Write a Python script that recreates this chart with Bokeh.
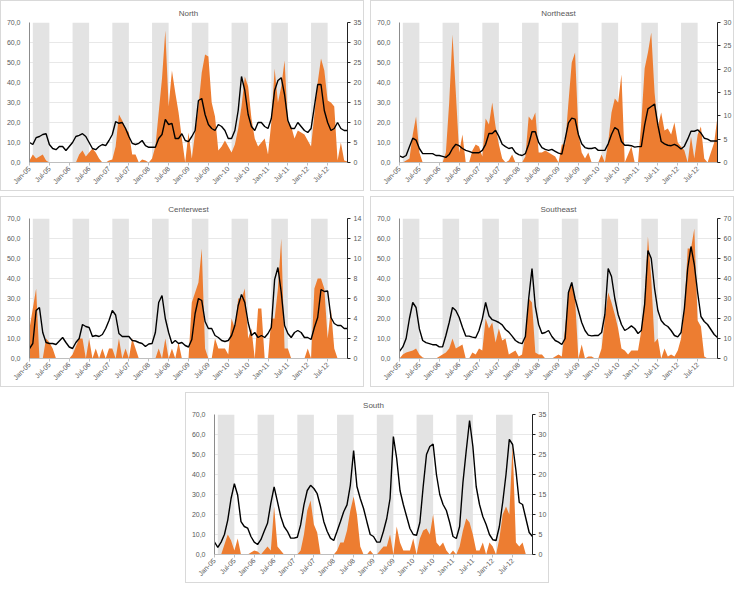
import math
from bokeh.plotting import figure
from bokeh.models import Range1d, LinearAxis, FixedTicker, CustomJSTickFormatter, Spacer
from bokeh.layouts import row, column
from bokeh.embed import file_html
from bokeh.resources import INLINE

# ---------------- data ----------------
months = list(range(97))  # Jan-05 ... Jan-13
tick_pos = list(range(0, 96, 6))
tick_labels = ["Jan-05", "Jul-05", "Jan-06", "Jul-06", "Jan-07", "Jul-07", "Jan-08", "Jul-08",
               "Jan-09", "Jul-09", "Jan-10", "Jul-10", "Jan-11", "Jul-11", "Jan-12", "Jul-12"]
years = list(range(8))
band_left = [12 * y + 1 for y in years]
band_right = [12 * y + 6 for y in years]

north_orange = [1, 4, 2, 3, 4, 1, 0, 0, 0, 0, 0, 0,
                0, 0, 0, 4, 6, 3, 5, 7, 5, 2, 0, 0,
                1, 1.5, 8, 24, 21, 17, 15, 4, 4, 0, 1.5, 1,
                0, 2, 8, 25, 42, 66, 28, 46, 35, 25, 12, 0,
                15, 2, 15, 28, 45, 54, 53, 30, 23, 6, 8, 11,
                8, 5, 9, 17, 28, 43, 38, 22, 12, 8, 10, 12,
                4, 20, 47, 30, 38, 51, 20, 18, 12, 16, 15, 14,
                11, 8, 24, 40, 52, 46, 31, 30, 28, 1, 10, 1,
                0.5]
north_black = [5, 4.5, 6.2, 6.5, 7, 7.2, 4.5, 3.5, 3.2, 4, 4, 3,
               4, 5, 6.5, 6.8, 7.2, 6.5, 5, 3.5, 3.2, 4, 4.5, 4.2,
               5.5, 7, 10.2, 9.8, 10, 8.5, 6.5, 4.8, 4.5, 4.8, 5.5, 4.2,
               3.8, 3.8, 3.8, 6, 7, 10.8, 9.5, 9.8, 6, 6, 7.2, 5.5,
               5.2, 6.5, 8, 15.5, 16, 12, 9.5, 8.5, 8, 9.5, 9, 8,
               6, 6, 8, 13, 21.5, 18, 12, 9, 8, 10, 10, 9,
               8.5, 11, 18, 20.5, 21.2, 17, 10.5, 8.5, 8.5, 10, 9, 8,
               7.5, 8.5, 14, 19.5, 19.5, 13, 10, 8, 8.5, 10, 8.5, 8,
               8]

ne_orange = [0, 0, 1, 2, 14, 23, 5, 0, 0, 0, 0, 0,
             0, 0, 5, 30, 64, 35, 5, 14, 0, 0, 6, 9,
             8, 3, 22, 19, 30, 18, 9, 2, 0, 1, 4, 0,
             0, 0, 3, 23, 21, 25, 5, 5, 6, 5, 4, 3,
             0, 9, 9, 30, 50, 55, 15, 5, 2, 5, 0, 0,
             0, 4, 0, 10, 25, 32, 30, 44, 0, 4, 8, 0,
             0, 20, 47, 55, 65, 35, 18, 25, 16, 17, 14, 20,
             10, 8, 6, 0, 13, 2, 14, 18, 2, 0, 5, 10,
             23]
ne_black = [1.4, 1.1, 1.5, 3.4, 5.2, 4.8, 3, 1.9, 1.9, 1.9, 1.9, 1.5,
            1.5, 1.3, 1.1, 1.7, 3, 3.9, 3.6, 3, 2.6, 2.4, 2.1, 2.1,
            2.1, 2.6, 3.9, 6.2, 6.2, 6.9, 5.6, 3.9, 3.4, 3, 3.2, 2.1,
            1.7, 1.5, 1.9, 3.9, 6.6, 6.6, 4.3, 3.2, 2.8, 2.6, 2.8, 2.4,
            2.0, 1.8, 5, 8.5, 9.5, 9.3, 6, 4, 3.2, 3, 3, 3.2,
            2.6, 2.6, 2.6, 4, 6, 7.5, 7, 4.5, 3.7, 3.7, 3.6, 3.3,
            3.4, 3.4, 8, 11.5, 12, 12.5, 8, 4.5, 4, 3.7, 3.6, 3.9,
            3.5, 2.9, 3.5, 5, 6.7, 6.7, 7, 6.3, 5.2, 5, 4.6, 4.6,
            4.6]

cw_orange = [15, 25, 35, 0, 0, 10, 8, 5, 0, 0, 0, 0,
             0, 2, 6, 10, 10, 0, 10, 0, 5, 0, 5, 0,
             5, 5, 0, 10, 0, 5, 0, 10, 5, 0, 0, 0,
             0, 0, 0, 5, 0, 10, 0, 5, 0, 8, 0, 0,
             0, 28, 33, 38, 55, 5, 0, 0, 10, 5, 5, 5,
             2, 20, 15, 30, 30, 35, 10, 15, 0, 25, 25, 0,
             0, 20, 20, 35, 60, 5, 5, 0, 0, 0, 0, 0,
             5, 0, 35, 40, 40, 35, 10, 25, 5, 0, 0, 0,
             0]
cw_black = [1.0, 1.5, 4.8, 5.1, 2.6, 1.6, 1.5, 1.5, 1.4, 1.75, 2.1, 1.6,
            1.15, 1.0, 1.6, 2.0, 3.4, 3.2, 3.1, 2.2, 2.3, 2.2, 2.4, 3.0,
            3.8, 4.8, 4.35, 2.5, 2.2, 2.2, 2.2, 1.8, 1.75, 1.6, 1.5, 1.2,
            1.45, 1.5, 2.6, 5.6, 6.3, 4.0, 2.6, 1.5, 1.8, 1.5, 1.6, 1.3,
            1.15, 1.9, 4.5, 6.0, 5.8, 3.7, 3.0, 3.0, 2.3, 2.1, 1.8, 1.7,
            1.8, 2.3, 3.3, 5.3, 6.4, 5.6, 3.6, 2.3, 2.6, 2.1, 2.3, 2.1,
            2.5, 3.1, 7.9, 9.1, 6.6, 3.3, 2.5, 2.1, 2.6, 2.8, 2.6, 2.1,
            2.1, 1.9, 3.1, 4.1, 6.9, 6.7, 6.75, 4.1, 3.5, 3.3, 3.3, 3.0,
            3.0]

se_orange = [0, 2, 3, 3.5, 4, 5, 2, 0.5, 0, 0, 0, 0,
             1, 2, 3, 5, 10, 5, 6, 7, 0, 0, 3, 2,
             5, 4, 20, 15, 18, 8, 15, 9, 10, 2, 3, 4,
             1, 2, 12, 30, 28, 3, 2, 2, 0, 0, 0, 1,
             2, 1, 15, 33, 38, 30, 0, 7, 0, 1, 1, 0,
             0, 5, 20, 33, 28, 22, 15, 5, 4, 2, 4, 4,
             4, 14, 30, 61, 40, 8, 10, 0, 5, 1, 2, 1,
             4, 10, 25, 55, 55, 65, 19, 16, 1, 0, 0, 0,
             0]
se_black = [3.6, 5.8, 10, 20, 28, 25.5, 14.8, 9, 7.9, 7.4, 6.9, 6.9,
            5.8, 5.8, 11.5, 18, 25.5, 24, 20.6, 15.6, 11.2, 11.2, 10.7, 10.4,
            14, 19.8, 28, 21.4, 19.4, 18.8, 18, 16.8, 14.5, 13.2, 11.2, 9,
            7.9, 7.4, 11, 30, 45, 26, 17, 12.5, 13, 14, 11, 9,
            8.2, 7, 10, 33, 38, 30, 24, 18, 14, 11.7, 11.3, 11.5,
            11.5, 13, 22, 45, 41, 30, 22, 17, 14, 15, 16.3, 15,
            12.5, 14, 27, 54, 50, 35, 24, 19, 17, 16, 14, 11.5,
            10.8, 13, 25, 45, 56, 47, 33, 21, 18.5, 17, 14.5, 12,
            10.5]

s_orange = [0, 0, 0, 5, 10, 7, 2, 8, 0, 0, 0, 1,
            2, 1.5, 0, 2, 4, 2, 24, 4, 2, 0, 0, 0,
            0, 0, 2, 10, 22, 27, 15, 11, 0, 0, 0, 0,
            0, 2, 6, 6, 12, 22, 29, 20, 4, 0, 0, 2,
            0, 0, 2, 4, 4, 10, 0, 14, 6, 2, 2, 2,
            8, 0, 8, 12, 13, 10, 20, 6, 4, 6, 2, 0,
            2, 0, 4, 12, 18, 16, 10, 2, 2, 6, 0, 6,
            4, 0, 8, 20, 24, 20, 55, 6, 4, 6, 0, 0,
            0]
s_black = [3.1, 1.8, 3.1, 5, 8.6, 14, 17.7, 14.8, 8.2, 7, 6.6, 4.5,
           3.1, 2.5, 3.7, 5.8, 7.8, 12.8, 16.9, 13.2, 9.5, 7, 5.8, 4.1,
           4.1, 4.3, 7.4, 12.4, 16, 17.3, 16.5, 15.2, 12, 8.2, 5.8, 4.1,
           3.5, 5.8, 8.2, 10.7, 12.4, 17.3, 26, 17, 14, 11.5, 8.2, 5,
           4.5, 3.1, 3.1, 5.8, 9, 14, 29.5, 24, 16, 12.5, 9.5, 6.5,
           5, 4.8, 8, 17, 25, 27, 27.6, 20, 15, 12.5, 11, 8,
           4.5, 4, 7, 18, 26, 33.5, 27, 17, 12.5, 9.5, 7.5, 5,
           3.7, 3.5, 7, 13, 20, 28.8, 27.5, 21, 13, 12.5, 9, 5.5,
           4.5]

left_ticks = list(range(0, 71, 10))

# ---------------- styling ----------------
FONT = "Liberation Sans"
TXT = "#595959"
ORANGE = "#ED7D31"
BAND = "#e3e3e3"
PW, PH = 364, 191


def panel(title, orange, black, rmax, rstep):
    p = figure(width=PW, height=PH, output_backend="svg", toolbar_location=None,
               x_range=Range1d(0, 96), y_range=Range1d(0, 70),
               min_border_left=28, min_border_right=18, min_border_top=19, min_border_bottom=30)
    p.styles = {"border": "1px solid #d9d9d9", "box-sizing": "border-box"}
    p.title.text = title
    p.title.align = "center"
    p.title.text_font = FONT
    p.title.text_font_size = "8px"
    p.title.text_font_style = "normal"
    p.title.text_color = TXT
    p.extra_y_ranges = {"r": Range1d(0, rmax)}
    p.outline_line_color = None
    p.background_fill_color = "white"

    p.quad(left=band_left, right=band_right, bottom=0, top=70,
           fill_color=BAND, line_color=None)
    p.varea(x=months, y1=0, y2=orange, fill_color=ORANGE)
    p.line(months, black, y_range_name="r", line_color="black", line_width=1.4)

    # left axis
    ya = p.yaxis[0]
    ya.ticker = FixedTicker(ticks=left_ticks)
    ya.formatter = CustomJSTickFormatter(code="return tick.toFixed(1).replace('.', ',');")
    ya.axis_line_color = "#8c8c8c"
    ya.major_tick_line_color = None
    ya.minor_tick_line_color = None
    ya.major_label_text_font = FONT
    ya.major_label_text_font_size = "7px"
    ya.major_label_text_color = TXT
    ya.major_label_standoff = 3

    # right axis
    ra = LinearAxis(y_range_name="r", ticker=FixedTicker(ticks=list(range(0, rmax + 1, rstep))))
    ra.axis_line_color = "#222222"
    ra.major_tick_line_color = "#222222"
    ra.major_tick_out = 3
    ra.major_tick_in = 0
    ra.minor_tick_line_color = None
    ra.major_label_text_font = FONT
    ra.major_label_text_font_size = "7px"
    ra.major_label_text_color = TXT
    ra.major_label_standoff = 3
    p.add_layout(ra, "right")

    # x axis
    xa = p.xaxis[0]
    xa.ticker = FixedTicker(ticks=tick_pos)
    xa.major_label_overrides = {t: l for t, l in zip(tick_pos, tick_labels)}
    xa.major_label_orientation = math.pi / 4
    xa.axis_line_color = "#bfbfbf"
    xa.major_tick_line_color = "#bfbfbf"
    xa.major_tick_out = 3
    xa.major_tick_in = 0
    xa.minor_tick_line_color = None
    xa.major_label_text_font = FONT
    xa.major_label_text_font_size = "7px"
    xa.major_label_text_color = TXT
    xa.major_label_standoff = 2

    p.xgrid.visible = False
    p.ygrid.ticker = FixedTicker(ticks=left_ticks)
    p.ygrid.grid_line_color = "#e8e8e8"
    p.ygrid.grid_line_width = 1
    return p


p1 = panel("North", north_orange, north_black, 35, 5)
p2 = panel("Northeast", ne_orange, ne_black, 30, 5)
p3 = panel("Centerwest", cw_orange, cw_black, 14, 2)
p4 = panel("Southeast", se_orange, se_black, 70, 10)
p5 = panel("South", s_orange, s_black, 35, 5)

layout = column(row(p1, p2, spacing=6),
                row(p3, p4, spacing=6),
                row(Spacer(width=185, height=PH), p5),
                spacing=5)

open("out.html", "w").write(file_html(layout, INLINE))
